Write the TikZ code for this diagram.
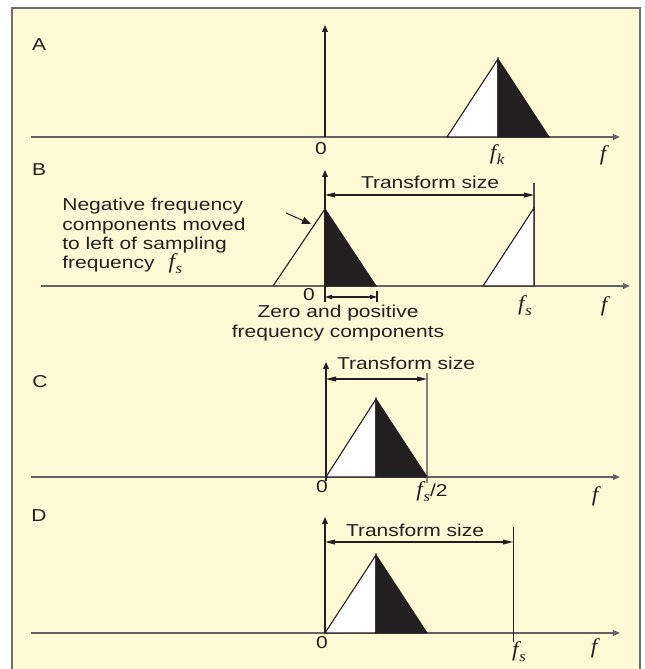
\documentclass[tikz,border=0pt]{standalone}
\usepackage{fontspec}
\setmainfont{Liberation Sans}[FakeStretch=1.22]
\newfontfamily\serifit{Liberation Serif}[FakeStretch=1.1]
\usetikzlibrary{arrows.meta}
\definecolor{bgyellow}{RGB}{255,249,214}
\definecolor{ink}{RGB}{35,31,32}
\definecolor{axisgray}{RGB}{100,100,100}
\definecolor{bordergray}{RGB}{110,110,110}
\definecolor{linegray}{RGB}{130,130,130}
\newcommand\fit{{\fontsize{10.6}{11}\selectfont\serifit\itshape f}}
\newcommand\fsym[1]{\fit\kern0.3pt\raisebox{-0.55ex}{\fontsize{7.6}{8}\selectfont\serifit\itshape #1}}
\begin{document}
\begin{tikzpicture}[x=0.5pt,y=-0.5pt,
  lbl/.style={font=\fontsize{8.6}{9.65}\selectfont, inner sep=0pt, text=ink},
  haxis/.style={draw=axisgray, line width=0.65pt, -{Triangle[length=3.4pt,width=2.8pt]}},
  vaxis/.style={draw=ink, line width=0.6pt, -{Triangle[length=3.4pt,width=2.8pt]}},
  dimarrow/.style={draw=ink, line width=0.55pt, {Triangle[length=5pt,width=2.4pt]}-{Triangle[length=5pt,width=2.4pt]}},
  smallarrow/.style={draw=ink, line width=0.55pt, {Triangle[length=3.6pt,width=2.2pt]}-{Triangle[length=3.6pt,width=2.2pt]}},
  pointer/.style={draw=ink, line width=0.5pt, -{Triangle[length=4.5pt,width=3.6pt]}},
  tri/.style={draw=ink, line width=0.55pt, line join=miter},
  mark line/.style={draw=ink, line width=0.55pt},
  grey line/.style={draw=linegray, line width=0.65pt}]
\useasboundingbox (0,0) rectangle (644,669);
\fill[white] (0,0) rectangle (644,669);
\draw[bordergray, line width=0.6pt, fill=bgyellow] (12,8) rectangle (640,680);

% ---------------- Panel A ----------------
\coordinate (Al) at (31,137);
\coordinate (Ar) at (620,137);
\coordinate (Ao) at (325,137);
\coordinate (At) at (325,25);
\coordinate (Ap1) at (447,137);
\coordinate (Ak) at (498,137);
\coordinate (Apk) at (498,59);
\coordinate (Ap2) at (549,137);
\draw[haxis] (Al) -- (Ar);
\draw[vaxis] (Ao) -- (At);
\filldraw[tri, fill=white] (Ap1) -- (Apk) -- (Ak) -- cycle;
\filldraw[tri, fill=ink] (Ak) -- (Apk) -- (Ap2) -- cycle;
\node[lbl] (labA) at (39,45) {A};
\node[lbl] (A0) at (321,149) {0};
\node[lbl] (Afk) at (497,155) {\fsym{k}};
\node[lbl] (Af) at (603,155) {\fit};

% ---------------- Panel B ----------------
\coordinate (Bl) at (41,286);
\coordinate (Br) at (630,286);
\coordinate (Bob) at (325,302);
\coordinate (Bt) at (325,170);
\coordinate (Bo) at (325,286);
\coordinate (Bpk) at (325,209);
\coordinate (Bq) at (376,286);
\coordinate (Bn) at (273,286);
\coordinate (Bs1) at (483,286);
\coordinate (Bspk) at (534,208);
\coordinate (Bs) at (534,286);
\coordinate (Bstop) at (534,183);
\coordinate (BdL) at (325,195);
\coordinate (BdR) at (534,195);
\coordinate (BpS) at (286,213);
\coordinate (BpE) at (311,224);
\coordinate (BzL) at (325,297);
\coordinate (BzR) at (377,297);
\coordinate (BtkT) at (377,291);
\coordinate (BtkB) at (377,302);
\draw[haxis] (Bl) -- (Br);
\draw[vaxis] (Bob) -- (Bt);
\draw[grey line, draw=ink!80] (Bstop) -- (Bs);
\filldraw[tri, fill=ink] (Bpk) -- (Bo) -- (Bq) -- cycle;
\draw[tri] (Bn) -- (Bpk);
\filldraw[tri, fill=white] (Bs1) -- (Bspk) -- (Bs) -- cycle;
\draw[dimarrow] (BdL) -- (BdR);
\draw[pointer] (BpS) -- (BpE);
\draw[smallarrow] (BzL) -- (BzR);
\draw[mark line] (BtkT) -- (BtkB);
\node[lbl] (labB) at (39,170) {B};
\node[lbl] (Btxt) at (430,182) {Transform size};
\node[lbl, align=left, anchor=north west] (Bneg) at (62,198)
  {Negative frequency\\components moved\\to left of sampling\\frequency\hspace{7pt}\fsym{s}};
\node[lbl] (B0) at (309,295) {0};
\node[lbl, align=center] (Bzero) at (338,323) {Zero and positive\\frequency components};
\node[lbl] (Bfs) at (525,306) {\fsym{s}};
\node[lbl] (Bf) at (604,306) {\fit};

% ---------------- Panel C ----------------
\coordinate (Cl) at (31,477);
\coordinate (Cr) at (620,477);
\coordinate (Cob) at (326,481);
\coordinate (Ct) at (326,362);
\coordinate (Co) at (326,477);
\coordinate (Cm) at (376,477);
\coordinate (Cpk) at (376,399);
\coordinate (Ch) at (427,477);
\coordinate (Chtop) at (427,373);
\coordinate (Chbot) at (427,483);
\coordinate (CdL) at (326,379);
\coordinate (CdR) at (427,379);
\draw[haxis] (Cl) -- (Cr);
\draw[vaxis] (Cob) -- (Ct);
\draw[grey line] (Chtop) -- (Chbot);
\filldraw[tri, fill=white] (Co) -- (Cpk) -- (Cm) -- cycle;
\filldraw[tri, fill=ink] (Cm) -- (Cpk) -- (Ch) -- cycle;
\draw[dimarrow] (CdL) -- (CdR);
\node[lbl] (labC) at (40,382) {C};
\node[lbl] (Ctxt) at (406,363) {Transform size};
\node[lbl] (C0) at (322,487) {0};
\node[lbl] (Cfs) at (432,492) {\fsym{s}/2};
\node[lbl] (Cf) at (595,496) {\fit};

% ---------------- Panel D ----------------
\coordinate (Dl) at (31,633);
\coordinate (Dr) at (620,633);
\coordinate (Do) at (325,633);
\coordinate (Dt) at (325,517);
\coordinate (Dm) at (376,633);
\coordinate (Dpk) at (376,555);
\coordinate (Dq) at (427,633);
\coordinate (Dstop) at (513,527);
\coordinate (Dsbot) at (513,642);
\coordinate (DdL) at (325,542);
\coordinate (DdR) at (513,542);
\draw[haxis] (Dl) -- (Dr);
\draw[vaxis] (Do) -- (Dt);
\draw[mark line, line width=0.5pt] (Dstop) -- (Dsbot);
\filldraw[tri, fill=white] (Do) -- (Dpk) -- (Dm) -- cycle;
\filldraw[tri, fill=ink] (Dm) -- (Dpk) -- (Dq) -- cycle;
\draw[dimarrow] (DdL) -- (DdR);
\node[lbl] (labD) at (39,516) {D};
\node[lbl] (Dtxt) at (415,530) {Transform size};
\node[lbl] (D0) at (322,643) {0};
\node[lbl] (Dfs) at (519,652) {\fsym{s}};
\node[lbl] (Df) at (594,648) {\fit};
\end{tikzpicture}
\end{document}
